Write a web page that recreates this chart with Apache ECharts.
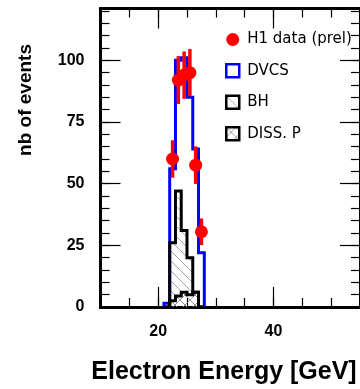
<!DOCTYPE html>
<html><head><meta charset="utf-8">
<script src="https://cdn.jsdelivr.net/npm/echarts@6/dist/echarts.min.js"></script>
<style>html,body{margin:0;padding:0;background:#fff}#c{width:360px;height:389px}</style>
</head><body><div id="c"></div>
<script>
// ---- data ----
const binEdges   = [21, 22, 23, 24, 25, 26, 27, 28];
const dvcsCounts = [1.5, 56, 100, 101, 85, 64, 22];
const bhCounts   = [0, 26, 47, 31, 20, 6, 0];
const dissCounts = [0, 2.5, 4.5, 6, 5, 6, 0];
const dataX   = [22.5, 23.5, 24.5, 25.5, 26.5, 27.5];
const dataY   = [60, 92, 94, 95, 57.5, 30.5];
const dataErr = [7.6, 9.7, 9.6, 9.6, 7.6, 5.4];
const xLabelTicks = [20, 40];
const xMinorTicks = [15, 20, 25, 30, 35, 40, 45, 50];
const yLabelTicks = [0, 25, 50, 75, 100];
const yMajorTicks = [25, 50, 75, 100];
const yMinorTicks = [5, 10, 15, 20, 25, 30, 35, 40, 45, 50, 55, 60, 65, 70, 75, 80, 85, 90, 95, 100, 105, 110, 115, 120];
const X_MIN = 10, X_MAX = 55, Y_MIN = 0, Y_MAX = 121;

function outline(edges, counts) {
  const pts = [[edges[0], 0]];
  for (let i = 0; i < counts.length; i++) {
    pts.push([edges[i], counts[i]]);
    pts.push([edges[i + 1], counts[i]]);
  }
  pts.push([edges[edges.length - 1], 0]);
  return pts;
}
function hatch(cross) {
  const c = document.createElement('canvas');
  c.width = c.height = 10;
  const g = c.getContext('2d');
  g.strokeStyle = '#8a8a8a'; g.lineWidth = 0.8;
  g.beginPath();
  g.moveTo(0, 0); g.lineTo(10, 10);
  if (cross) { g.moveTo(10, 0); g.lineTo(0, 10); }
  g.stroke();
  return { image: c, repeat: 'repeat' };
}
const hatchBH = hatch(false), hatchDiss = hatch(true);
const FONT = 'Liberation Sans, Arial, sans-serif';

function xAx(pos, long, labels) {
  return {
    type: 'value', position: pos, min: X_MIN, max: X_MAX, gridIndex: 0,
    axisLine: { show: true, onZero: false, lineStyle: { color: '#000', width: 3 } },
    axisTick: { show: true, inside: true, length: long ? 20 : 9, customValues: long ? xLabelTicks : xMinorTicks, lineStyle: { color: '#000', width: 1.2 } },
    axisLabel: labels ? { show: true, customValues: xLabelTicks, margin: 17, color: '#000', fontFamily: FONT, fontWeight: 'bold', fontSize: 16 } : { show: false },
    splitLine: { show: false }
  };
}
function yAx(pos, long, labels) {
  return {
    type: 'value', position: pos, min: Y_MIN, max: Y_MAX, gridIndex: 0,
    axisLine: { show: true, onZero: false, lineStyle: { color: '#000', width: 3 } },
    axisTick: { show: true, inside: true, length: long ? 20 : 9, customValues: long ? yMajorTicks : yMinorTicks, lineStyle: { color: '#000', width: 1.2 } },
    axisLabel: labels ? { show: true, customValues: yLabelTicks, margin: 16, color: '#000', fontFamily: FONT, fontWeight: 'bold', fontSize: 16 } : { show: false },
    splitLine: { show: false }
  };
}

const chart = echarts.init(document.getElementById('c'), null, { renderer: 'canvas' });
chart.setOption({
  animation: false,
  backgroundColor: '#fff',
  grid: { left: 100.5, top: 8.5, width: 262.5, height: 298.5 },
  xAxis: [xAx('bottom', true, true), xAx('bottom', false, false), xAx('top', true, false), xAx('top', false, false)],
  yAxis: [yAx('left', true, true), yAx('left', false, false), yAx('right', true, false), yAx('right', false, false)],
  legend: {
    orient: 'vertical', left: 225, top: 32, padding: 0, itemWidth: 13, itemHeight: 13, itemGap: 16,
    textStyle: { fontFamily: 'DejaVu Sans', fontSize: 15, color: '#000', lineHeight: 14, padding: [0, 0, 0, 3] },
    data: [
      { name: 'H1 data (prel)', icon: 'circle', itemStyle: { color: '#ff0000', borderWidth: 0 } },
      { name: 'DVCS', icon: 'rect', itemStyle: { color: '#fff', borderColor: '#0000ff', borderWidth: 2.5 } },
      { name: 'BH', icon: 'rect', itemStyle: { color: hatchBH, borderColor: '#000', borderWidth: 2.5 } },
      { name: 'DISS. P', icon: 'rect', itemStyle: { color: hatchDiss, borderColor: '#000', borderWidth: 2.5 } }
    ]
  },
  graphic: [
    { type: 'text', x: 224, y: 372, style: { text: 'Electron Energy [GeV]', fontFamily: FONT, fontWeight: 'bold', fontSize: 25, fill: '#000', align: 'center', verticalAlign: 'middle' } },
    { type: 'text', x: 26, y: 100, rotation: Math.PI / 2, style: { text: 'nb of events', fontFamily: FONT, fontWeight: 'bold', fontSize: 19, fill: '#000', align: 'center', verticalAlign: 'middle' } }
  ],
  series: [
    { name: 'DVCS', type: 'line', z: 2, symbol: 'none', data: outline(binEdges, dvcsCounts),
      lineStyle: { color: '#0000ff', width: 3, join: 'miter' }, itemStyle: { color: '#0000ff' } },
    { name: 'BH', type: 'line', z: 3, symbol: 'none', data: outline(binEdges, bhCounts),
      lineStyle: { color: '#000', width: 3, join: 'miter' }, itemStyle: { color: '#000' }, areaStyle: { color: hatchBH, opacity: 1 } },
    { name: 'DISS. P', type: 'line', z: 4, symbol: 'none', data: outline(binEdges, dissCounts),
      lineStyle: { color: '#000', width: 3, join: 'miter' }, itemStyle: { color: '#000' }, areaStyle: { color: hatchDiss, opacity: 1 } },
    { name: 'errors', type: 'custom', z: 5,
      data: dataX.map((x, i) => [x, dataY[i] - dataErr[i], dataY[i] + dataErr[i]]),
      renderItem: function (params, api) {
        const lo = api.coord([api.value(0), api.value(1)]);
        const hi = api.coord([api.value(0), api.value(2)]);
        return { type: 'line', shape: { x1: lo[0], y1: lo[1], x2: hi[0], y2: hi[1] }, style: { stroke: '#ff0000', lineWidth: 3.5 } };
      } },
    { name: 'H1 data (prel)', type: 'scatter', z: 6, symbol: 'circle', symbolSize: 13,
      data: dataX.map((x, i) => [x, dataY[i]]), itemStyle: { color: '#ff0000', opacity: 1 } }
  ]
});
</script>
</body></html>
